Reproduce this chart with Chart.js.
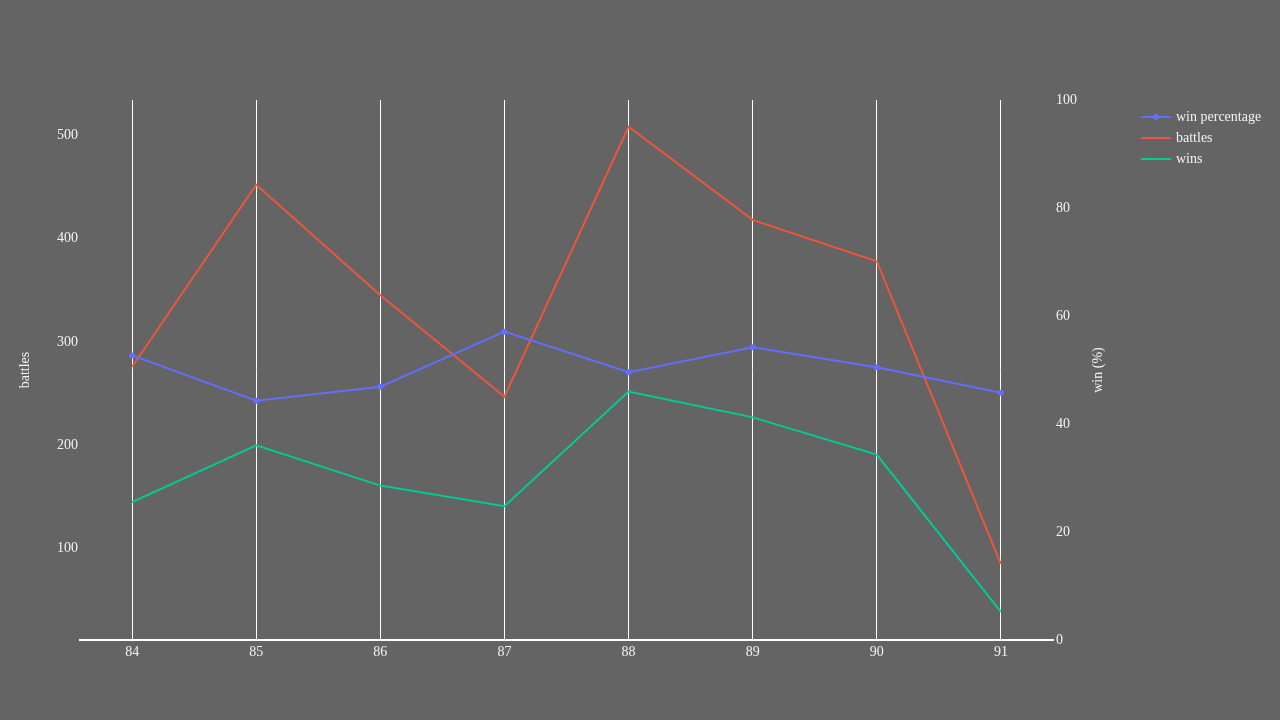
<!DOCTYPE html>
<html>
<head>
<meta charset="utf-8">
<title>battles and wins</title>
<script src="https://cdn.jsdelivr.net/npm/chart.js@4.4.1/dist/chart.umd.min.js"></script>
<style>
  body { margin: 0; background: #646464; }
  #wrap { position: relative; width: 1280px; height: 720px; }
  .legend { position: absolute; left: 1141px; top: 106px; font: 14px "Liberation Serif", "Times New Roman", serif; color: #f2f2f2; }
  .legend-row { display: flex; align-items: center; height: 21px; }
  .legend-line { position: relative; width: 30px; height: 2px; margin-right: 5px; }
  .legend-dot { position: absolute; left: 12px; top: -2px; width: 6px; height: 6px; border-radius: 50%; }
</style>
</head>
<body>
<div id="wrap">
  <canvas id="chart" width="1280" height="720"></canvas>
  <div class="legend" id="legend"></div>
</div>
<script>
// chart data
const tiers = [84, 85, 86, 87, 88, 89, 90, 91];
const battles = [276, 452, 345, 247, 508, 418, 378, 85];
const wins = [145, 200, 161, 141, 252, 227, 191, 39];
const winPercentage = [52.7, 44.3, 46.9, 57.1, 49.6, 54.2, 50.5, 45.8];
const battleTicks = [100, 200, 300, 400, 500];

const FONT = '"Liberation Serif", "Times New Roman", serif';
const TEXT = '#f2f2f2';

Chart.defaults.font.family = FONT;
Chart.defaults.font.size = 14;
Chart.defaults.color = TEXT;

const series = [
  { label: 'win percentage', data: winPercentage, color: '#636efa', axis: 'y1', dot: true },
  { label: 'battles', data: battles, color: '#ef553b', axis: 'y', dot: false },
  { label: 'wins', data: wins, color: '#00cc96', axis: 'y', dot: false }
];

// right axis title reads bottom-to-top, so draw it by hand
const rightTitle = {
  id: 'rightTitle',
  afterDraw(chart) {
    const ctx = chart.ctx;
    const area = chart.chartArea;
    ctx.save();
    ctx.translate(1098, (area.top + area.bottom) / 2);
    ctx.rotate(-Math.PI / 2);
    ctx.font = '14px ' + FONT;
    ctx.fillStyle = TEXT;
    ctx.textAlign = 'center';
    ctx.textBaseline = 'middle';
    ctx.fillText('win (%)', 0, 0);
    ctx.restore();
  }
};

new Chart(document.getElementById('chart'), {
  type: 'line',
  data: {
    datasets: series.map(s => ({
      label: s.label,
      data: s.data.map((v, i) => ({ x: tiers[i], y: v })),
      yAxisID: s.axis,
      borderColor: s.color,
      backgroundColor: s.color,
      borderWidth: 2,
      tension: 0,
      pointRadius: s.dot ? 3 : 0,
      pointBorderWidth: 0,
      fill: false
    }))
  },
  plugins: [rightTitle],
  options: {
    responsive: false,
    animation: false,
    layout: { padding: { top: 100, right: 167, left: 0, bottom: 0 } },
    plugins: { legend: { display: false }, tooltip: { enabled: false } },
    scales: {
      x: {
        type: 'linear',
        min: 83.58,
        max: 91.42,
        afterBuildTicks: scale => { scale.ticks = tiers.map(v => ({ value: v })); },
        afterFit: scale => { scale.height = 80; },
        grid: { color: '#ffffff', lineWidth: 1, drawTicks: false },
        border: { display: true, color: '#ffffff', width: 2 },
        ticks: { padding: 4, maxRotation: 0 }
      },
      y: {
        position: 'left',
        min: 11.7,
        max: 533.9,
        afterBuildTicks: scale => { scale.ticks = battleTicks.map(v => ({ value: v })); },
        afterFit: scale => { scale.width = 80; },
        grid: { display: false, drawTicks: false },
        border: { display: false },
        ticks: { padding: 2 },
        title: { display: true, text: 'battles', padding: { top: 17, bottom: 0 } }
      },
      y1: {
        position: 'right',
        min: 0,
        max: 100,
        afterFit: scale => { scale.width = 60; },
        grid: { display: false, drawTicks: false },
        border: { display: false },
        ticks: { stepSize: 20, padding: 3 }
      }
    }
  }
});

// legend in the top right corner
const legend = document.getElementById('legend');
series.forEach(s => {
  const row = document.createElement('div');
  row.className = 'legend-row';
  const line = document.createElement('span');
  line.className = 'legend-line';
  line.style.background = s.color;
  if (s.dot) {
    const dot = document.createElement('span');
    dot.className = 'legend-dot';
    dot.style.background = s.color;
    line.appendChild(dot);
  }
  const label = document.createElement('span');
  label.textContent = s.label;
  row.appendChild(line);
  row.appendChild(label);
  legend.appendChild(row);
});
</script>
</body>
</html>
